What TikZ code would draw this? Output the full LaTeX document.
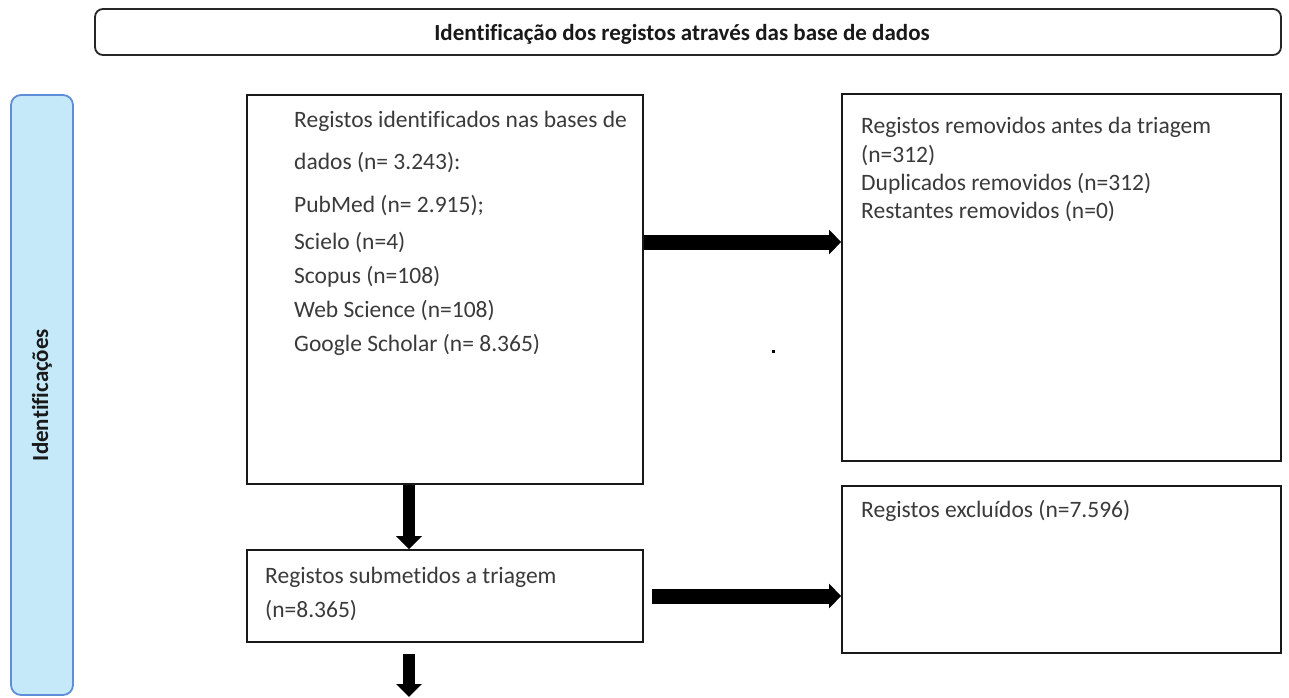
\documentclass[tikz,border=0pt]{standalone}
\usepackage{fontspec}
\setmainfont{Carlito}[Ligatures={NoCommon}]
\usetikzlibrary{arrows.meta}
\definecolor{sidefill}{HTML}{C6E9F9}
\definecolor{sidedraw}{HTML}{5E8ED8}
\definecolor{txtc}{HTML}{3A3A3A}
\begin{document}
\begin{tikzpicture}[x=1pt,y=-1pt,
  box/.style={draw=black!90, line width=1.8pt, inner sep=0pt, fill=white},
  bodytxt/.style={anchor=base west, inner sep=0pt, text=txtc, font=\fontsize{23.5}{28}\selectfont},
  headtxt/.style={inner sep=0pt, text=black!90, font=\bfseries\fontsize{23}{28}\selectfont},
  harrow/.style={draw=black, line width=15pt, -{Triangle[length=12pt,width=24pt]}},
  varrow/.style={draw=black, line width=12pt, -{Triangle[length=13pt,width=25pt]}}]
\useasboundingbox (0,0) rectangle (1289,697);
\fill[white] (0,0) rectangle (1289,697);

% title banner
\node[box, draw=black!85, rounded corners=8pt, minimum width=1186pt, minimum height=46pt] (title) at (688,32) {};
\node[headtxt, anchor=base] (titletxt) at (682,40) {Identificação dos registos através das base de dados};

% side bar
\node[draw=sidedraw, fill=sidefill, line width=1.8pt, rounded corners=10pt, minimum width=62pt, minimum height=600pt, inner sep=0pt] (side) at (42,395) {};
\node[headtxt, rotate=90] (sidetxt) at (side.center) {Identificações};

% boxes
\node[box, minimum width=396pt, minimum height=389pt] (b1) at (445,289.5) {};
\node[box, minimum width=396pt, minimum height=92pt] (b2) at (445,596) {};
\node[box, minimum width=439pt, minimum height=367pt] (r1) at (1061.5,277.5) {};
\node[box, minimum width=439pt, minimum height=167pt] (r2) at (1061.5,569.5) {};

% texts in b1
\node[bodytxt] (b1t1) at (294,127) {Registos identificados nas bases de};
\node[bodytxt] (b1t2) at (294,169) {dados (n= 3.243):};
\node[bodytxt] (b1t3) at (294,212) {PubMed (n= 2.915);};
\node[bodytxt] (b1t4) at (294,249) {Scielo (n=4)};
\node[bodytxt] (b1t5) at (294,283) {Scopus (n=108)};
\node[bodytxt] (b1t6) at (294,317) {Web Science (n=108)};
\node[bodytxt] (b1t7) at (294,351) {Google Scholar (n= 8.365)};

% texts in b2
\node[bodytxt] (b2t1) at (265,583) {Registos submetidos a triagem};
\node[bodytxt] (b2t2) at (265,617) {(n=8.365)};

% texts in r1
\node[bodytxt] (r1t1) at (861,133) {Registos removidos antes da triagem};
\node[bodytxt] (r1t2) at (861,162) {(n=312)};
\node[bodytxt] (r1t3) at (861,190) {Duplicados removidos (n=312)};
\node[bodytxt] (r1t4) at (861,218) {Restantes removidos (n=0)};

% text in r2
\node[bodytxt] (r2t1) at (861,517) {Registos excluídos (n=7.596)};

% stray dot
\node[fill=black, minimum size=3pt, inner sep=0pt] (dot) at (773,351) {};

% connectors
\coordinate (ya) at (0,242);
\coordinate (xa) at (409,0);
\coordinate (bottom) at (409,697);
\draw[harrow] (b1.east |- ya) -- (r1.west |- ya);
\draw[harrow, shorten <=8pt] (b2.east) -- (b2.east -| r2.west);
\draw[varrow] (b1.south -| xa) -- (b2.north -| xa);
\draw[varrow, shorten <=11pt] (b2.south -| xa) -- (bottom);
\end{tikzpicture}
\end{document}
